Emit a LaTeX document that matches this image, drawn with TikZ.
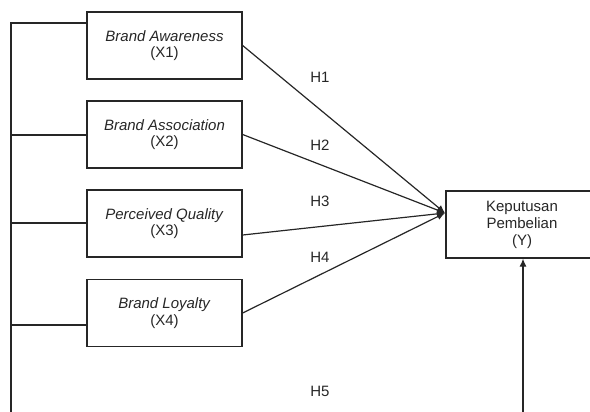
\documentclass[tikz,border=0pt]{standalone}
\usepackage{fontspec}
\setmainfont{Liberation Sans}
\usetikzlibrary{arrows.meta}
\definecolor{ink}{HTML}{262626}
\begin{document}
\begin{tikzpicture}[x=1pt,y=-1pt,
  varbox/.style={draw=ink,line width=1.3pt,minimum width=155pt,minimum height=67pt,
    align=center,inner sep=0pt,font=\fontsize{15}{16.5}\selectfont,text=ink},
  link/.style={draw=ink,line width=1.2pt},
  hyp/.style={font=\fontsize{15}{16}\selectfont,text=ink,inner sep=0pt},
  tip/.style={-{Latex[length=8pt,width=7pt]}}]
\useasboundingbox (0,0) rectangle (590,412);
\node[varbox] (x1) at (164.5,45.5) {\textit{Brand Awareness}\\(X1)};
\node[varbox] (x2) at (164.5,134.5) {\textit{Brand Association}\\(X2)};
\node[varbox] (x3) at (164.5,223.5) {\textit{Perceived Quality}\\(X3)};
\node[varbox] (x4) at (164.5,313) {\textit{Brand Loyalty}\\(X4)};
\node[varbox,minimum width=152pt,font=\fontsize{15}{17}\selectfont] (y) at (522,224.5) {Keputusan\\Pembelian\\(Y)};
\coordinate (hub) at (445,213);
\coordinate (top) at (11,23);
\coordinate (bot) at (11,412);
\coordinate (l2) at (11,135);
\coordinate (l3) at (11,223);
\coordinate (l4) at (11,325);
\coordinate (src) at (523,412);
\draw[link] (bot) -- (top) -- (top -| x1.west);
\draw[link] (l2) -- (l2 -| x2.west);
\draw[link] (l3) -- (l3 -| x3.west);
\draw[link] (l4) -- (l4 -| x4.west);
\draw[link,tip] (x1.east) -- (hub);
\draw[link,tip] (x2.east) -- (hub);
\draw[link,tip] ([yshift=-11.5pt]x3.east) -- (hub);
\draw[link,tip] (x4.east) -- (hub);
\draw[link,tip] (src) -- (src |- y.south);
\node[hyp] (h1) at (320,77) {H1};
\node[hyp] (h2) at (320,145) {H2};
\node[hyp] (h3) at (320,201) {H3};
\node[hyp] (h4) at (320,257) {H4};
\node[hyp] (h5) at (320,391) {H5};
\end{tikzpicture}
\end{document}
